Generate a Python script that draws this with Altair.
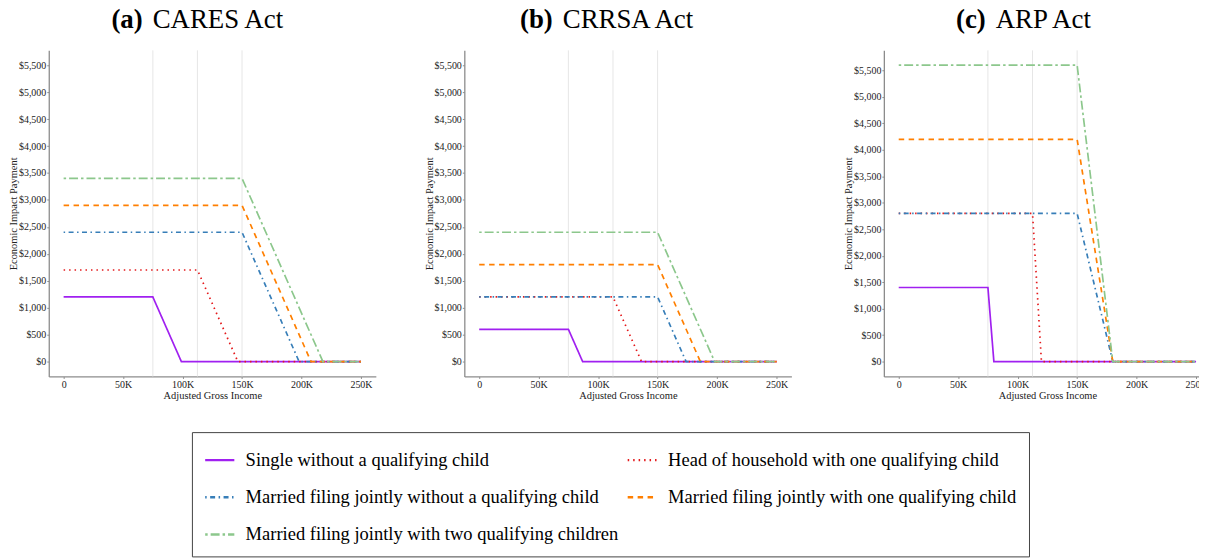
import altair as alt
import pandas as pd

# ---------------- data ----------------
series = [
    "Single without a qualifying child",
    "Head of household with one qualifying child",
    "Married filing jointly without a qualifying child",
    "Married filing jointly with one qualifying child",
    "Married filing jointly with two qualifying children",
]
acts = ["CARES Act", "CRRSA Act", "ARP Act"]
letters = ["(a)", "(b)", "(c)"]

# breakpoints (AGI, payment) for each act and filing status
cares_single_x = [0, 75000, 99000, 250000]
cares_single_y = [1200, 1200, 0, 0]
cares_hoh_x = [0, 112500, 146500, 250000]
cares_hoh_y = [1700, 1700, 0, 0]
cares_mfj0_x = [0, 150000, 198000, 250000]
cares_mfj0_y = [2400, 2400, 0, 0]
cares_mfj1_x = [0, 150000, 208000, 250000]
cares_mfj1_y = [2900, 2900, 0, 0]
cares_mfj2_x = [0, 150000, 218000, 250000]
cares_mfj2_y = [3400, 3400, 0, 0]

crrsa_single_x = [0, 75000, 87000, 250000]
crrsa_single_y = [600, 600, 0, 0]
crrsa_hoh_x = [0, 112500, 136500, 250000]
crrsa_hoh_y = [1200, 1200, 0, 0]
crrsa_mfj0_x = [0, 150000, 174000, 250000]
crrsa_mfj0_y = [1200, 1200, 0, 0]
crrsa_mfj1_x = [0, 150000, 186000, 250000]
crrsa_mfj1_y = [1800, 1800, 0, 0]
crrsa_mfj2_x = [0, 150000, 198000, 250000]
crrsa_mfj2_y = [2400, 2400, 0, 0]

arp_single_x = [0, 75000, 80000, 250000]
arp_single_y = [1400, 1400, 0, 0]
arp_hoh_x = [0, 112500, 120000, 250000]
arp_hoh_y = [2800, 2800, 0, 0]
arp_mfj0_x = [0, 150000, 180000, 250000]
arp_mfj0_y = [2800, 2800, 0, 0]
arp_mfj1_x = [0, 150000, 180000, 250000]
arp_mfj1_y = [4200, 4200, 0, 0]
arp_mfj2_x = [0, 150000, 180000, 250000]
arp_mfj2_y = [5600, 5600, 0, 0]

thresholds = [75000, 112500, 150000]
x_ticks = [0, 50000, 100000, 150000, 200000, 250000]
y_ticks = [0, 500, 1000, 1500, 2000, 2500, 3000, 3500, 4000, 4500, 5000, 5500]

panel_data = [
    [(cares_single_x, cares_single_y), (cares_hoh_x, cares_hoh_y), (cares_mfj0_x, cares_mfj0_y),
     (cares_mfj1_x, cares_mfj1_y), (cares_mfj2_x, cares_mfj2_y)],
    [(crrsa_single_x, crrsa_single_y), (crrsa_hoh_x, crrsa_hoh_y), (crrsa_mfj0_x, crrsa_mfj0_y),
     (crrsa_mfj1_x, crrsa_mfj1_y), (crrsa_mfj2_x, crrsa_mfj2_y)],
    [(arp_single_x, arp_single_y), (arp_hoh_x, arp_hoh_y), (arp_mfj0_x, arp_mfj0_y),
     (arp_mfj1_x, arp_mfj1_y), (arp_mfj2_x, arp_mfj2_y)],
]

# ---------------- style ----------------
colors = ["#A020F0", "#E41A1C", "#377EB8", "#FF7F00", "#8CC78C"]
dashes = [[1, 0], [1.5, 4], [1.5, 3.5, 5, 3.5], [5.5, 4.5], [2.5, 3, 9, 3]]
FONT = "Liberation Serif"
y_domains = [[-275, 5775], [-275, 5775], [-280, 5880]]
# split point between bold letter and act name, plot-relative px
title_split = [99.5, 94, 107.5]
W, H = 329, 328


def panel(i):
    rows = []
    for s, (xs, ys) in zip(series, panel_data[i]):
        for k, (xv, yv) in enumerate(zip(xs, ys)):
            rows.append({"series": s, "agi": xv, "pay": yv, "k": k})
    df = pd.DataFrame(rows)

    xscale = alt.Scale(domain=[-12500, 262500], nice=False, zero=False)
    yscale = alt.Scale(domain=y_domains[i], nice=False, zero=False)

    xaxis = alt.Axis(values=x_ticks, grid=False, title="Adjusted Gross Income",
                     labelExpr="datum.value == 0 ? '0' : format(datum.value / 1000, 'd') + 'K'")
    yaxis = alt.Axis(values=y_ticks, grid=False, format="$,.0f", title="Economic Impact Payment")

    rules = alt.Chart(pd.DataFrame({"agi": thresholds})).mark_rule(
        color="#E6E6E6", strokeWidth=1
    ).encode(x=alt.X("agi:Q", scale=xscale, axis=xaxis))

    lines = alt.Chart(df).mark_line(strokeWidth=1.7, clip=True).encode(
        x=alt.X("agi:Q", scale=xscale, axis=xaxis),
        y=alt.Y("pay:Q", scale=yscale, axis=yaxis),
        color=alt.Color("series:N", scale=alt.Scale(domain=series, range=colors),
                        legend=alt.Legend(title=None)),
        strokeDash=alt.StrokeDash("series:N", scale=alt.Scale(domain=series, range=dashes),
                                  legend=alt.Legend(title=None)),
        order="k:Q",
    )

    t_letter = alt.Chart(pd.DataFrame({"t": [letters[i]]})).mark_text(
        font=FONT, fontSize=27, fontWeight="bold", align="right", baseline="alphabetic", color="black"
    ).encode(text="t:N", x=alt.value(title_split[i] - 5), y=alt.value(-22))
    t_act = alt.Chart(pd.DataFrame({"t": [acts[i]]})).mark_text(
        font=FONT, fontSize=27, align="left", baseline="alphabetic", color="black"
    ).encode(text="t:N", x=alt.value(title_split[i] + 5), y=alt.value(-22))

    return alt.layer(rules, lines, t_letter, t_act).properties(width=W, height=H)


chart = alt.hconcat(
    alt.hconcat(panel(0), panel(1), spacing=48),
    panel(2),
    spacing=52,
).resolve_scale(color="shared", strokeDash="shared").properties(
    padding={"left": 0, "top": -3, "right": -12, "bottom": 0}
).configure_view(stroke=None).configure_axis(
    labelFont=FONT, labelFontSize=10, labelColor="#222222",
    titleFont=FONT, titleFontSize=10.5, titleColor="#222222", titleFontWeight="normal",
    domainColor="#8C8C8C", domainWidth=1.3, tickColor="#8C8C8C", tickSize=2, tickWidth=1,
    labelPadding=1,
).configure_axisY(titlePadding=0).configure_axisX(titlePadding=1).configure_legend(
    orient="none", legendX=144, legendY=384, columns=2, direction="horizontal",
    symbolType="stroke", symbolSize=860, symbolStrokeWidth=2.4,
    labelFont=FONT, labelFontSize=18.6, labelColor="black", labelLimit=0, labelOffset=10,
    rowPadding=11.5, columnPadding=4, padding=12,
    strokeColor="#444444", strokeWidth=1, fillColor="white", cornerRadius=0,
)

chart.save("out.html", embed_options={"renderer": "svg", "actions": False})
